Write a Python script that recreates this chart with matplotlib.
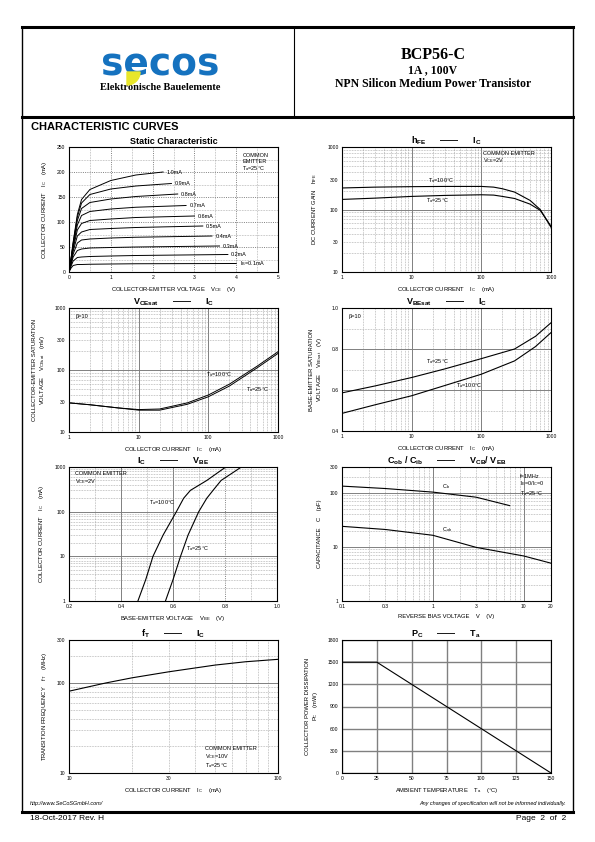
import math
import matplotlib
matplotlib.use("Agg")
import matplotlib.pyplot as plt
from matplotlib.patches import Wedge

plt.rcParams['font.family'] = ['Liberation Sans', 'DejaVu Sans']
plt.rcParams['mathtext.fontset'] = 'custom'
plt.rcParams['mathtext.rm'] = 'Liberation Sans'
plt.rcParams['mathtext.bf'] = 'Liberation Sans:bold'
plt.rcParams['mathtext.it'] = 'Liberation Sans:italic'

# static characteristic (IC vs VCE for several IB)
vce_pts = [0, 0.05, 0.1, 0.2, 0.3, 0.5, 1.0, 1.6]
ib_labels = ["$\\mathregular{I_B}$=0.1mA", "0.2mA", "0.3mA", "0.4mA", "0.5mA",
             "0.6mA", "0.7mA", "0.8mA", "0.9mA", "1.0mA"]
ic_static = [
    [0, 8, 13, 15, 15, 15.5, 16, 16.5],
    [0, 12, 22, 29, 30, 31, 32, 33],
    [0, 15, 30, 43, 46, 48, 49, 50],
    [0, 18, 36, 58, 64, 66, 68, 69.5],
    [0, 20, 42, 72, 80, 85, 87, 89],
    [0, 22, 47, 84, 97, 103, 106, 109],
    [0, 24, 51, 94, 113, 121, 126, 129.5],
    [0, 26, 55, 103, 127, 139, 146, 151],
    [0, 27, 58, 110, 138, 155, 166, 172],
    [0, 28, 60, 115, 145, 165, 183, 194],
]
vce_end = [4.0, 3.8, 3.6, 3.42, 3.2, 3.0, 2.8, 2.6, 2.45, 2.25]
ic_end = [17, 35, 52, 72, 92, 112, 133, 156, 177, 200]

# hFE vs IC
ic_hfe = [1, 3, 10, 30, 100, 150, 200, 300, 500, 700, 1000]
hfe_100 = [221, 228, 232, 234, 234, 228, 215, 190, 140, 100, 52]
hfe_25 = [145, 152, 162, 168, 172, 170, 162, 150, 122, 97, 54]

# VCEsat vs IC
ic_sat = [1, 2, 5, 10, 20, 50, 100, 200, 500, 1000]
vcesat_25 = [29.5, 27.5, 24.5, 22.5, 22.5, 28, 37, 55, 108, 185]
vcesat_100 = [29.5, 27.5, 24.5, 23, 23.5, 29.5, 39.5, 59, 115, 197]

# VBEsat vs IC
ic_be = [1, 3, 10, 30, 100, 300, 600, 1000]
vbesat_25 = [0.586, 0.62, 0.661, 0.703, 0.753, 0.80, 0.862, 0.928]
vbesat_100 = [0.486, 0.528, 0.572, 0.622, 0.677, 0.742, 0.812, 0.88]

# IC vs VBE
ic_on = [1, 3, 10, 30, 100, 200, 300, 500, 1000]
vbe_100 = [0.465, 0.495, 0.523, 0.562, 0.613, 0.641, 0.667, 0.73, 0.803]
vbe_25 = [0.571, 0.60, 0.629, 0.658, 0.699, 0.73, 0.754, 0.785, 0.863]

# capacitance vs reverse voltage
v_ib = [0.1, 0.3, 1, 3, 7]
cib = [133, 120, 103, 83, 58]
v_ob = [0.1, 0.3, 1, 3, 10, 20]
cob = [24, 21, 16.4, 9.8, 6.8, 5.0]

# fT vs IC
ic_ft = [10, 15, 20, 30, 50, 70, 100]
ft = [81, 100, 114, 133, 158, 172, 183]

# Pc vs Ta
ta = [0, 25, 150]
pc = [1500, 1500, 0]

W, H = 595, 842
fig = plt.figure(figsize=(W / 100, H / 100), dpi=100)
fig.patch.set_facecolor("white")

# page overlay in pixel coordinates
pg = fig.add_axes([0, 0, 1, 1])
pg.set_xlim(0, W)
pg.set_ylim(H, 0)
pg.axis("off")
pg.plot([22, 573], [27, 27], color="black", lw=2.2)
pg.plot([22, 573], [117, 117], color="black", lw=2.2)
pg.plot([22, 573], [812, 812], color="black", lw=2.2)
pg.plot([22, 22], [27, 812], color="black", lw=1.0)
pg.plot([573, 573], [27, 812], color="black", lw=1.0)
pg.plot([294, 294], [27, 117], color="black", lw=0.8)

pg.text(160, 66, "secos", color="#1572bf", fontsize=27, fontweight="bold",
        family="DejaVu Sans", ha="center", va="center")
pg.add_patch(Wedge((127, 72), 13, 0, 90, color="#e8e62a", zorder=5))
pg.text(160, 88, "Elektronische Bauelemente", family="Liberation Serif",
        fontweight="bold", fontsize=7.5, ha="center", va="center")
pg.text(433, 55, "BCP56-C", family="Liberation Serif", fontweight="bold",
        fontsize=11.5, ha="center", va="center")
pg.text(433, 70, "1A , 100V", family="Liberation Serif", fontweight="bold",
        fontsize=8.5, ha="center", va="center")
pg.text(433, 84, "NPN Silicon Medium Power Transistor", family="Liberation Serif",
        fontweight="bold", fontsize=8.5, ha="center", va="center")
pg.text(31, 127, "CHARACTERISTIC CURVES", fontweight="bold", fontsize=8,
        ha="left", va="center")
pg.text(30, 804, "http://www.SeCoSGmbH.com/", fontstyle="italic", fontsize=4,
        ha="left", va="center")
pg.text(566, 804, "Any changes of specification will not be informed individually.",
        fontstyle="italic", fontsize=4, ha="right", va="center")
pg.text(30, 819, "18-Oct-2017 Rev. H", fontsize=6, ha="left", va="center")
pg.text(566, 819, "Page  2  of  2", fontsize=6, ha="right", va="center")

DOT = (0, (1, 1.3))
LAB = 3.6
AX = 4.2


def add_ax(x0, y0, x1, y1):
    return fig.add_axes([x0 / W, 1 - y1 / H, (x1 - x0) / W, (y1 - y0) / H])


def fmt(v):
    return f"{v:g}"


def log_ticks(axis, lo, hi, shown):
    majors, minors = [], []
    for k in range(int(math.floor(math.log10(lo))), int(math.ceil(math.log10(hi))) + 1):
        for m in range(1, 10):
            v = m * 10.0 ** k
            if v < lo * 0.999 or v > hi * 1.001:
                continue
            (majors if m == 1 else minors).append(v)
    sh = [round(s, 6) for s in shown]
    axis.set_ticks(majors, labels=[fmt(v) if round(v, 6) in sh else "" for v in majors])
    axis.set_ticks(minors, labels=[fmt(v) if round(v, 6) in sh else "" for v in minors],
                   minor=True)


def style(ax, major_ls="-", minor_ls=DOT):
    ax.tick_params(which="both", length=0, labelsize=LAB, pad=2.5)
    ax.grid(which="major", color="#808080", lw=0.7, ls=major_ls)
    ax.grid(which="minor", color="#999999", lw=0.5, ls=minor_ls)
    ax.set_axisbelow(True)
    for s in ax.spines.values():
        s.set_linewidth(0.8)


def title(ax, left, right):
    ax.set_title(left + "      ——      " + right, fontsize=6.5, fontweight="bold", pad=2)


# 1. static characteristic
ax = add_ax(69, 147, 278, 272)
for i in range(len(ib_labels)):
    xs = vce_pts + [vce_end[i]]
    ys = ic_static[i] + [ic_end[i]]
    ax.plot(xs, ys, color="black", lw=0.7)
    ax.text(vce_end[i] + 0.08, ic_end[i], ib_labels[i], fontsize=4, va="center")
ax.set_xlim(0, 5)
ax.set_ylim(0, 250)
ax.set_xticks([0, 1, 2, 3, 4, 5])
ax.set_xticks([0.5, 1.5, 2.5, 3.5, 4.5], minor=True)
ax.set_yticks([0, 50, 100, 150, 200, 250])
ax.set_yticks([25, 75, 125, 175, 225], minor=True)
style(ax, major_ls=DOT)
ax.set_title("Static Characteristic", fontsize=6.5, fontweight="bold", pad=2)
ax.set_xlabel("COLLECTOR-EMITTER VOLTAGE    $\\mathregular{V_{CE}}$    (V)", fontsize=AX, labelpad=3)
ax.set_ylabel("COLLECTOR CURRENT    $\\mathregular{I_C}$    (mA)", fontsize=AX, labelpad=6)
ax.text(0.83, 0.95, "COMMON\nEMITTER\n$\\mathregular{T_a}$=25°C", transform=ax.transAxes,
        fontsize=4, va="top", ha="left", linespacing=1.1)

# 2. hFE
ax = add_ax(342, 147, 551, 272)
ax.plot(ic_hfe, hfe_100, color="black", lw=0.8)
ax.plot(ic_hfe, hfe_25, color="black", lw=0.8)
ax.set_xscale("log")
ax.set_yscale("log")
ax.set_xlim(1, 1000)
ax.set_ylim(10, 1000)
log_ticks(ax.xaxis, 1, 1000, [1, 10, 100, 1000])
log_ticks(ax.yaxis, 10, 1000, [10, 30, 100, 300, 1000])
style(ax)
title(ax, "$\\mathbf{h_{FE}}$", "$\\mathbf{I_C}$")
ax.set_xlabel("COLLECTOR CURRENT    $\\mathregular{I_C}$    (mA)", fontsize=AX, labelpad=3)
ax.set_ylabel("DC CURRENT GAIN    $\\mathregular{h_{FE}}$", fontsize=AX, labelpad=6)
ax.text(0.675, 0.97, "COMMON EMITTER\n$\\mathregular{V_{CE}}$=2V", transform=ax.transAxes,
        fontsize=4, va="top", ha="left", linespacing=1.1)
ax.text(17, 290, "$\\mathregular{T_a}$=100°C", fontsize=4, va="center")
ax.text(16, 140, "$\\mathregular{T_a}$=25°C", fontsize=4, va="center")

# 3. VCEsat
ax = add_ax(69, 308, 278, 432)
ax.plot(ic_sat, vcesat_100, color="black", lw=0.7)
ax.plot(ic_sat, vcesat_25, color="black", lw=0.7)
ax.set_xscale("log")
ax.set_yscale("log")
ax.set_xlim(1, 1000)
ax.set_ylim(10, 1000)
log_ticks(ax.xaxis, 1, 1000, [1, 10, 100, 1000])
log_ticks(ax.yaxis, 10, 1000, [10, 30, 100, 300, 1000])
style(ax)
title(ax, "$\\mathbf{V_{CEsat}}$", "$\\mathbf{I_C}$")
ax.set_xlabel("COLLECTOR CURRENT    $\\mathregular{I_C}$    (mA)", fontsize=AX, labelpad=3)
ax.set_ylabel("COLLECTOR-EMITTER SATURATION\nVOLTAGE    $\\mathregular{V_{CEsat}}$    (mV)",
              fontsize=AX, labelpad=5)
ax.text(0.03, 0.95, "β=10", transform=ax.transAxes, fontsize=4, va="top")
ax.text(92, 83, "$\\mathregular{T_a}$=100°C", fontsize=4, va="center")
ax.text(350, 48, "$\\mathregular{T_a}$=25°C", fontsize=4, va="center")

# 4. VBEsat
ax = add_ax(342, 308, 551, 431)
ax.plot(ic_be, vbesat_25, color="black", lw=0.8)
ax.plot(ic_be, vbesat_100, color="black", lw=0.8)
ax.set_xscale("log")
ax.set_xlim(1, 1000)
ax.set_ylim(0.4, 1.0)
log_ticks(ax.xaxis, 1, 1000, [1, 10, 100, 1000])
ax.set_yticks([0.4, 0.6, 0.8, 1.0], labels=["0.4", "0.6", "0.8", "1.0"])
ax.set_yticks([0.5, 0.7, 0.9], minor=True)
style(ax)
title(ax, "$\\mathbf{V_{BEsat}}$", "$\\mathbf{I_C}$")
ax.set_xlabel("COLLECTOR CURRENT    $\\mathregular{I_C}$    (mA)", fontsize=AX, labelpad=3)
ax.set_ylabel("BASE-EMITTER SATURATION\nVOLTAGE    $\\mathregular{V_{BEsat}}$    (V)",
              fontsize=AX, labelpad=5)
ax.text(0.03, 0.95, "β=10", transform=ax.transAxes, fontsize=4, va="top")
ax.text(16, 0.737, "$\\mathregular{T_a}$=25°C", fontsize=4, va="center")
ax.text(44, 0.624, "$\\mathregular{T_a}$=100°C", fontsize=4, va="center")

# 5. IC vs VBE
ax = add_ax(69, 467, 277, 601)
ax.plot(vbe_100, ic_on, color="black", lw=0.8)
ax.plot(vbe_25, ic_on, color="black", lw=0.8)
ax.set_yscale("log")
ax.set_xlim(0.2, 1.0)
ax.set_ylim(1, 1000)
ax.set_xticks([0.2, 0.4, 0.6, 0.8, 1.0], labels=["0.2", "0.4", "0.6", "0.8", "1.0"])
ax.set_xticks([0.3, 0.5, 0.7, 0.9], minor=True)
log_ticks(ax.yaxis, 1, 1000, [1, 10, 100, 1000])
style(ax)
ax.xaxis.get_gridlines()[3].set_linestyle(DOT)
title(ax, "$\\mathbf{I_C}$", "$\\mathbf{V_{BE}}$")
ax.set_xlabel("BASE-EMITTER VOLTAGE    $\\mathregular{V_{BE}}$    (V)", fontsize=AX, labelpad=3)
ax.set_ylabel("COLLECTOR CURRENT    $\\mathregular{I_C}$    (mA)", fontsize=AX, labelpad=6)
ax.text(0.03, 0.97, "COMMON EMITTER\n$\\mathregular{V_{CE}}$=2V", transform=ax.transAxes,
        fontsize=4, va="top", ha="left", linespacing=1.1)
ax.text(0.508, 164, "$\\mathregular{T_a}$=100°C", fontsize=4, va="center")
ax.text(0.649, 15.2, "$\\mathregular{T_a}$=25°C", fontsize=4, va="center")

# 6. capacitance
ax = add_ax(342, 467, 551, 601)
ax.plot(v_ib, cib, color="black", lw=0.8)
ax.plot(v_ob, cob, color="black", lw=0.8)
ax.set_xscale("log")
ax.set_yscale("log")
ax.set_xlim(0.1, 20)
ax.set_ylim(1, 300)
log_ticks(ax.xaxis, 0.1, 20, [0.1, 0.3, 1, 3, 10, 20])
log_ticks(ax.yaxis, 1, 300, [1, 10, 100, 300])
style(ax)
title(ax, "$\\mathbf{C_{ob}}$ / $\\mathbf{C_{ib}}$", "$\\mathbf{V_{CB}}$/ $\\mathbf{V_{EB}}$")
ax.set_xlabel("REVERSE BIAS VOLTAGE    V    (V)", fontsize=AX, labelpad=3)
ax.set_ylabel("CAPACITANCE    C    (pF)", fontsize=AX, labelpad=6)
ax.text(0.85, 0.95, "f=1MHz\n$\\mathregular{I_E}$=0/$\\mathregular{I_C}$=0\n$\\mathregular{T_a}$=25°C",
        transform=ax.transAxes, fontsize=4, va="top", ha="left", linespacing=1.1)
ax.text(1.27, 131, "$\\mathregular{C_{ib}}$", fontsize=4, va="center")
ax.text(1.25, 21, "$\\mathregular{C_{ob}}$", fontsize=4, va="center")

# 7. fT
ax = add_ax(69, 640, 278, 773)
ax.plot(ic_ft, ft, color="black", lw=0.8)
ax.set_xscale("log")
ax.set_yscale("log")
ax.set_xlim(10, 100)
ax.set_ylim(10, 300)
log_ticks(ax.xaxis, 10, 100, [10, 30, 100])
log_ticks(ax.yaxis, 10, 300, [10, 100, 300])
style(ax)
title(ax, "$\\mathbf{f_T}$", "$\\mathbf{I_C}$")
ax.set_xlabel("COLLECTOR CURRENT    $\\mathregular{I_C}$    (mA)", fontsize=AX, labelpad=3)
ax.set_ylabel("TRANSITION FREQUENCY    $\\mathregular{f_T}$    (MHz)", fontsize=AX, labelpad=6)
ax.text(0.65, 0.2, "COMMON EMITTER\n$\\mathregular{V_{CE}}$=10V\n$\\mathregular{T_a}$=25°C",
        transform=ax.transAxes, fontsize=4, va="top", ha="left", linespacing=1.1)

# 8. Pc vs Ta
ax = add_ax(342, 640, 551, 773)
ax.plot(ta, pc, color="black", lw=0.8)
ax.set_xlim(0, 150)
ax.set_ylim(0, 1800)
ax.set_xticks([0, 25, 50, 75, 100, 125, 150])
ax.set_yticks([0, 300, 600, 900, 1200, 1500, 1800])
style(ax)
ax.grid(which="major", color="#808080", lw=1.0)
title(ax, "$\\mathbf{P_C}$", "$\\mathbf{T_a}$")
ax.set_xlabel("AMBIENT TEMPERATURE    $\\mathregular{T_a}$    (°C)", fontsize=AX, labelpad=3)
ax.set_ylabel("COLLECTOR POWER DISSIPATION\n$\\mathregular{P_C}$    (mW)", fontsize=AX, labelpad=5)

fig.savefig("out.png", dpi=100)
